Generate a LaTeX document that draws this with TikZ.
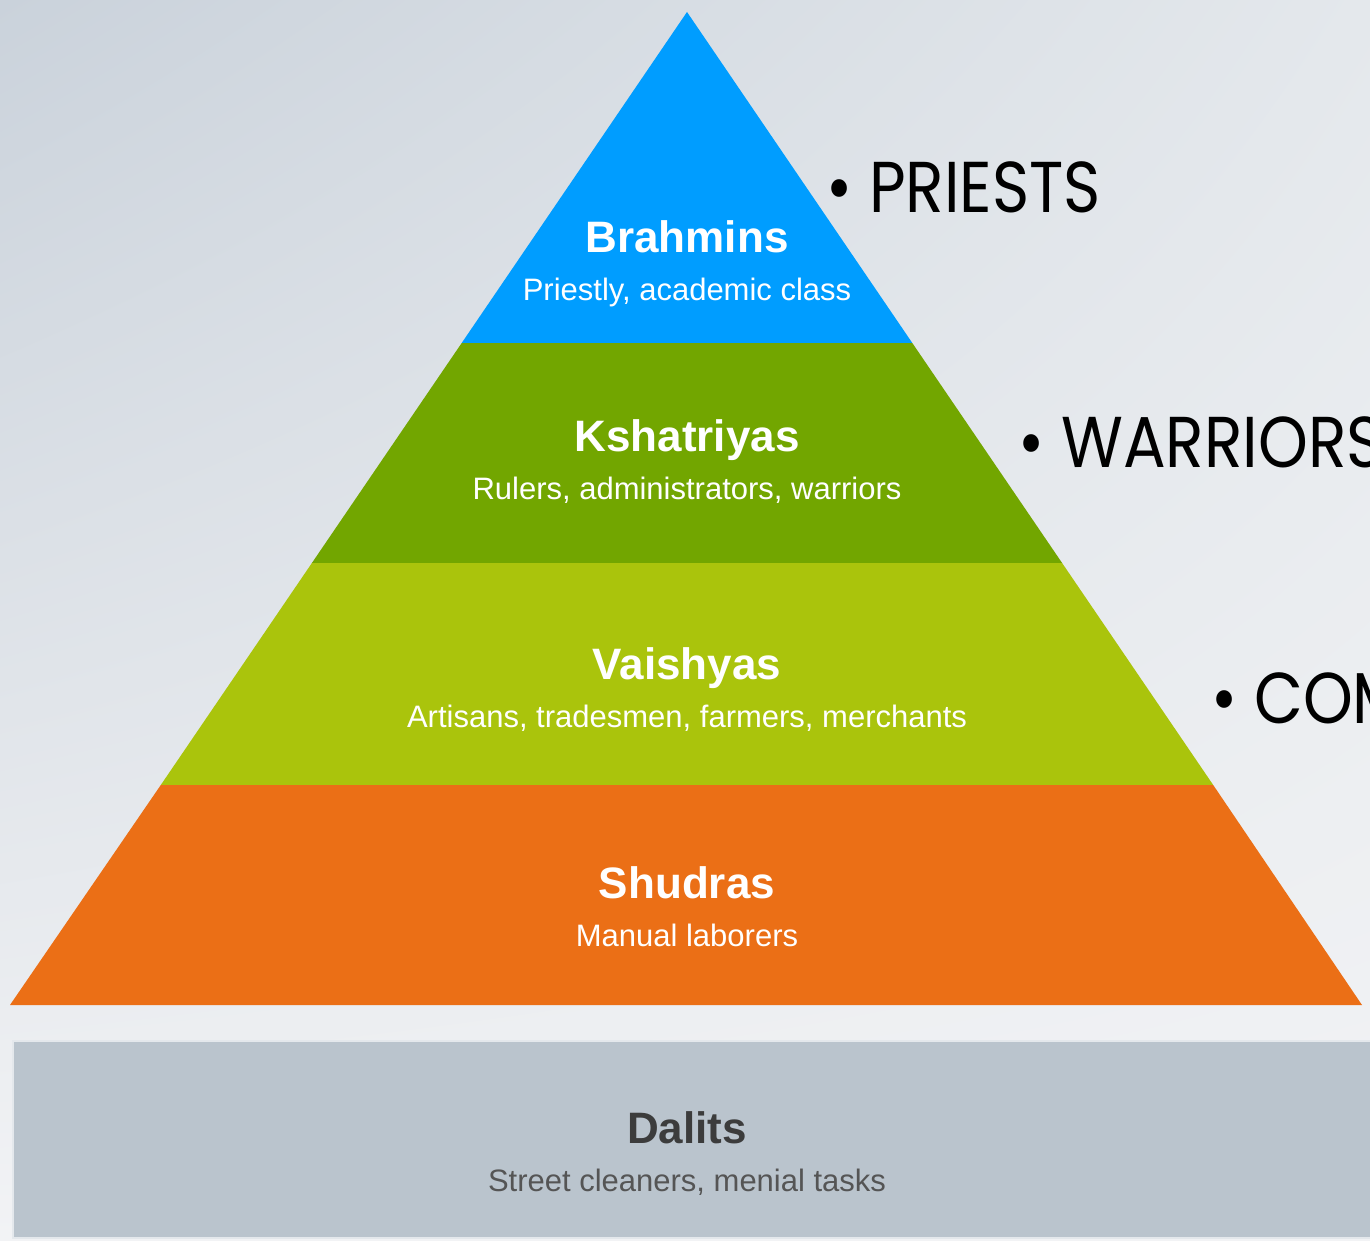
\documentclass[tikz,border=0pt]{standalone}
\usepackage{fontspec}
\usepackage{xcolor}
\usepackage{tikz}
\usetikzlibrary{shadings}
\setmainfont{Liberation Sans}
\newfontfamily\slidefont[FakeStretch=0.88]{Poppins}
\definecolor{brahminblue}{RGB}{0, 157, 255}
\definecolor{kshatriyagreen}{RGB}{114, 166, 0}
\definecolor{vaishyalime}{RGB}{170, 196, 12}
\definecolor{shudraorange}{RGB}{235, 111, 22}
\definecolor{dalitgray}{RGB}{186, 196, 205}
\definecolor{bgdark}{RGB}{202, 210, 219}
\definecolor{bgmid}{RGB}{228, 232, 236}
\definecolor{bglight}{RGB}{242, 243, 245}
\definecolor{darkgray}{RGB}{60, 60, 60}
\definecolor{midgray}{RGB}{85, 85, 85}

\begin{document}
\begin{tikzpicture}[x=1pt, y=-1pt,
    tiertitle/.style={anchor=base, inner sep=0pt, text=white, font=\fontsize{44}{48}\selectfont\bfseries},
    tiersub/.style={anchor=base, inner sep=0pt, text=white, font=\fontsize{31}{34}\selectfont},
    sidelabel/.style={anchor=base west, inner sep=0pt, text=black, font=\slidefont\fontsize{72}{76}\selectfont}]
    \useasboundingbox (0,0) rectangle (1370,1241);
    \clip (0,0) rectangle (1370,1241);
    % background
    \shade[upper left=bgdark, upper right=bgmid, lower left=bglight, lower right=bglight] (0,0) rectangle (1370,1241);
    % pyramid bands
    \fill[brahminblue] (687,12) -- (912.3,343) -- (461.7,343) -- cycle;
    \fill[kshatriyagreen] (461.7,343) -- (912.3,343) -- (1062.1,563) -- (311.9,563) -- cycle;
    \fill[vaishyalime] (311.9,563) -- (1062.1,563) -- (1213.2,785) -- (160.8,785) -- cycle;
    \fill[shudraorange] (160.8,785) -- (1213.2,785) -- (1362,1005) -- (10,1005) -- cycle;
    % outcastes
    \fill[dalitgray, draw=bgmid, line width=1.5pt] (13,1041) rectangle (1372,1238);
    % tier labels
    \node[tiertitle] (brahmins) at (687,253) {Brahmins};
    \node[tiersub] (brahminsSub) at (687,300) {Priestly, academic class};
    \node[tiertitle] (kshatriyas) at (687,451) {Kshatriyas};
    \node[tiersub] (kshatriyasSub) at (687,499) {Rulers, administrators, warriors};
    \node[tiertitle] (vaishyas) at (687,679) {Vaishyas};
    \node[tiersub] (vaishyasSub) at (687,727) {Artisans, tradesmen, farmers, merchants};
    \node[tiertitle] (shudras) at (687,898) {Shudras};
    \node[tiersub] (shudrasSub) at (687,946) {Manual laborers};
    \node[tiertitle, text=darkgray] (dalits) at (687,1143) {Dalits};
    \node[tiersub, text=midgray] (dalitsSub) at (687,1191) {Street cleaners, menial tasks};
    % roles
    \node[sidelabel] (priests) at (826,213) {• PRIESTS};
    \node[sidelabel] (warriors) at (1018,467) {• WARRIORS};
    \node[sidelabel] (commoners) at (1211,723) {• COMMONERS};
\end{tikzpicture}
\end{document}
